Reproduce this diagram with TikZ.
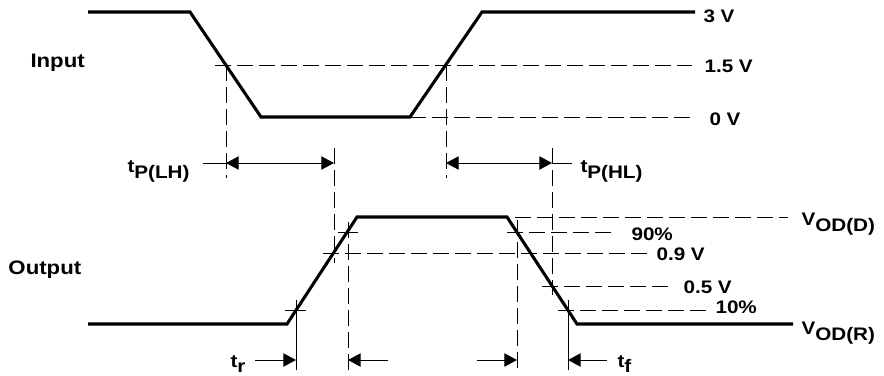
\documentclass[tikz,border=0pt]{standalone}
\usepackage{fontspec}
\usepackage{tikz}
\usetikzlibrary{arrows.meta}

\newfontfamily\sigfont{Liberation Sans}[FakeStretch=1.14]
\newcommand{\sublow}[1]{\raisebox{-0.33em}{#1}}

\begin{document}
\begin{tikzpicture}[
            x = 0.75pt, y = -0.75pt, % pixel grid, y pointing down
            > = {Triangle[length=9.5pt, width=10pt]}, % arrow head style
            line width = 0.75pt % line style
        ]

        \tikzstyle{wave}=[
            line width = 2.3pt,
            line join = miter
        ]
        \tikzstyle{guide}=[dash pattern = on 12pt off 4.5pt]
        \tikzstyle{lbl}=[
            anchor = base west,
            inner sep = 0pt,
            font = \sigfont\bfseries\fontsize{13.6}{15}\selectfont
        ]
        \tikzstyle{sig}=[lbl, font = \sigfont\bfseries\fontsize{14.6}{16}\selectfont]

        \useasboundingbox (0,0) rectangle (884,375);

        % input waveform
        \coordinate (i0) at (88,12);
        \coordinate (i1) at (190,12);
        \coordinate (i2) at (261,117);
        \coordinate (i3) at (410,117);
        \coordinate (i4) at (482,12);
        \coordinate (i5) at (695,12);
        \draw[wave] (i0) -- (i1) -- (i2) -- (i3) -- (i4) -- (i5);

        % output waveform
        \coordinate (o0) at (88,324);
        \coordinate (o1) at (287,324);
        \coordinate (o2) at (357,217);
        \coordinate (o3) at (507,217);
        \coordinate (o4) at (577,324);
        \coordinate (o5) at (793,324);
        \draw[wave] (o0) -- (o1) -- (o2) -- (o3) -- (o4) -- (o5);

        % input levels
        \coordinate (mid) at (692,65);
        \coordinate (low) at (692,117);
        \draw[guide] (215,65) -- (mid);
        \draw[guide] (i3) -- (low);
        \draw[guide] (226,65) -- (226,178);
        \draw[guide] (446,65) -- (446,178);

        % output levels
        \draw[guide] (515,217) -- (788,217);
        \draw[guide] (507,232) -- (617,232);
        \draw[guide] (323,253) -- (647,253);
        \draw[guide] (542,286) -- (673,286);
        \draw[guide] (558,310) -- (710,310);

        % crossing marks
        \draw (285,310) -- (306,310);
        \draw (296,300) -- (296,370);
        \draw (338,232) -- (358,232);
        \draw[guide] (348,222) -- (348,370);
        \draw[guide] (334,148) -- (334,263);
        \draw[guide] (517,220) -- (517,370);
        \draw[guide] (552,148) -- (552,295);
        \draw (568,300) -- (568,370);

        % propagation delays
        \draw (203,163) -- (226,163);
        \draw[<->] (226,163) -- (334,163);
        \draw[<->] (446,163) -- (552,163);
        \draw (552,163) -- (572,163);

        % rise and fall times
        \draw[->] (255,360) -- (296,360);
        \draw[->] (388,360) -- (348,360);
        \draw[->] (477,360) -- (517,360);
        \draw[->] (607,360) -- (568,360);

        % labels
        \node[sig] (in) at (30,67) {Input};
        \node[sig] (out) at (8,274) {Output};
        \node[lbl] (v3) at (703,22) {3 V};
        \node[lbl] (v15) at (704,72) {1.5 V};
        \node[lbl] (v0) at (709,125) {0 V};
        \node[lbl] (tplh) at (127,172.5) {t\sublow{P(LH)}};
        \node[lbl] (tphl) at (580,172.5) {t\sublow{P(HL)}};
        \node[lbl] (vodd) at (801,225.5) {V\sublow{OD(D)}};
        \node[lbl] (vodr) at (801,334.5) {V\sublow{OD(R)}};
        \node[lbl] (p90) at (631,240) {90\%};
        \node[lbl] (v09) at (656,260) {0.9 V};
        \node[lbl] (v05) at (683,293) {0.5 V};
        \node[lbl] (p10) at (715,313) {10\%};
        \node[lbl] (tr) at (230,367) {t\sublow{r}};
        \node[lbl] (tf) at (617,367) {t\sublow{f}};

  \end{tikzpicture}
\end{document}
